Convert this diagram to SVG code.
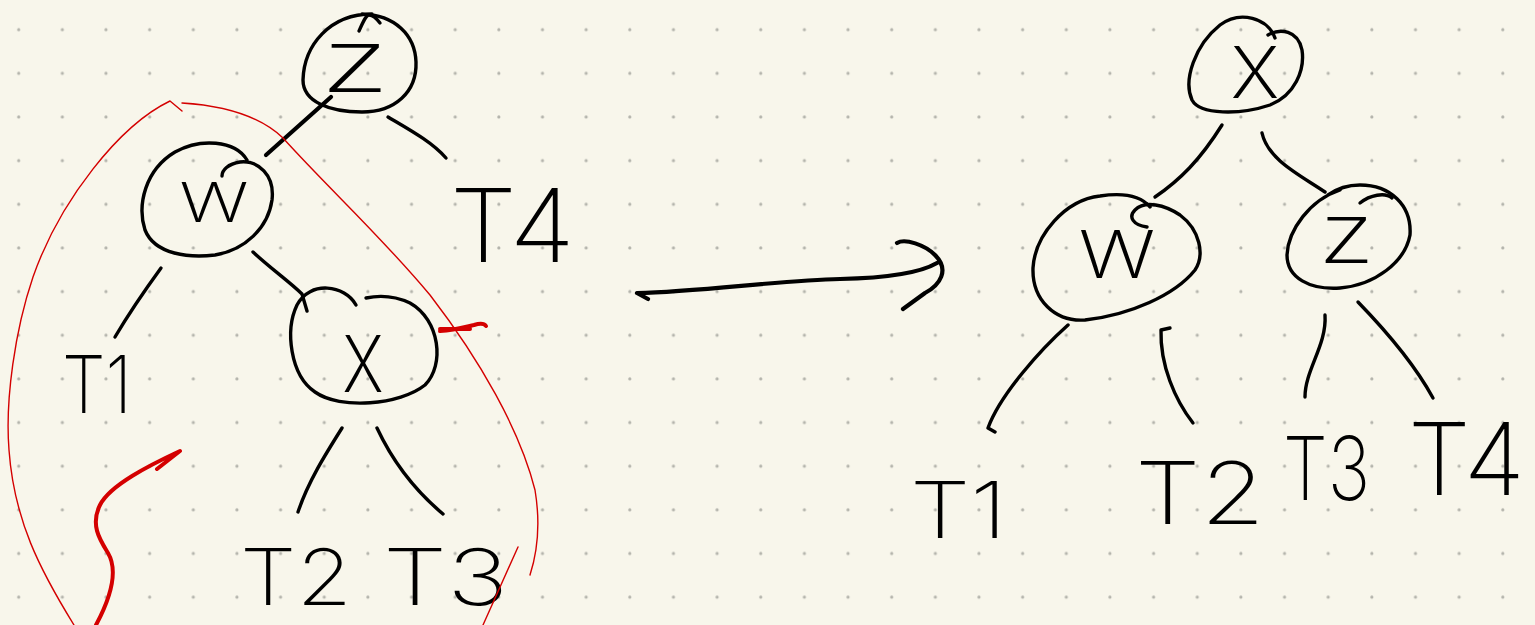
<svg xmlns="http://www.w3.org/2000/svg" width="1535" height="625" viewBox="0 0 1535 625">
<defs>
<pattern id="dots" x="0" y="0" width="43.65" height="43.65" patternUnits="userSpaceOnUse">
<circle cx="18.7" cy="29.7" r="1.6" fill="#b4b4ac"/>
</pattern>
<style>
.ink{fill:none;stroke:#000;stroke-width:3.4;stroke-linecap:round;stroke-linejoin:round}
.thick{stroke-width:4.2}
.red{fill:none;stroke:#d40000;stroke-linecap:round;stroke-linejoin:round}
.thin{stroke-width:1.4}
.bold{stroke-width:4}
.lbl{font-family:Inter,"Liberation Sans",sans-serif;font-weight:200;fill:#000}
</style>
</defs>
<rect width="1535" height="625" fill="#f8f6eb"/>
<rect width="1535" height="625" fill="url(#dots)"/>

<g id="connectors">
<path class="ink thick" d="M331 97 L266 155"/>
<path class="ink" d="M388 117 C410 130 432 142 446 158"/>
<path class="ink" d="M161 268 C145 290 128 315 115 337"/>
<path class="ink" d="M253 252 C270 268 290 282 302 294 L307 311"/>
<path class="ink" d="M342 428 C325 455 308 482 298 512"/>
<path class="ink" d="M377 428 C392 460 412 488 443 514"/>
<path class="ink" d="M1222 125 C1200 160 1180 180 1155 197"/>
<path class="ink" d="M1262 133 C1268 160 1300 175 1325 192"/>
<path class="ink" d="M1068 325 C1040 350 1000 395 988 428 L995 432"/>
<path class="ink" d="M1170 328 L1161 330 C1160 365 1175 400 1193 423"/>
<path class="ink" d="M1325 315 C1327 345 1305 370 1305 397"/>
<path class="ink" d="M1358 302 C1390 335 1415 365 1433 398"/>
<path class="ink thick" d="M648 299 L637 293 C700 292 780 280 840 279 C885 278 920 273 937 263"/>
<path class="ink thick" d="M897 243 C905 238 925 245 935 255 C950 270 940 285 925 293 L903 309"/>
</g>

<g id="node-z-left">
<path class="ink" d="M359 31 C363 22 366 15 369 15 C373 15 377 19 380 23"/>
<path class="ink" d="M372 14 C330 14 304 45 303 80 C303 102 330 112 362 112 C395 112 417 92 416 62 C415 35 395 15 362 14"/>
<text class="lbl" x="320" y="92" font-size="88" textLength="70" lengthAdjust="spacingAndGlyphs">z</text>
</g>

<g id="node-w-left">
<path class="ink" d="M247 160 C235 140 200 138 175 152 C145 170 137 205 145 230 C155 255 190 258 215 255 C245 250 268 228 272 200 C275 175 258 160 240 162 C228 164 222 170 222 176"/>
<text class="lbl" x="178" y="222" font-size="73" textLength="72" lengthAdjust="spacingAndGlyphs">w</text>
</g>

<g id="node-x-left">
<path class="ink" d="M356 305 C345 285 310 280 297 305 C285 330 290 375 315 392 C340 410 400 405 425 385 C445 365 440 320 410 303 C395 296 380 295 366 298"/>
<text class="lbl" x="342" y="392" font-size="105" textLength="42" lengthAdjust="spacingAndGlyphs">x</text>
</g>

<g id="leaf-t1-left"><text class="lbl" x="62" y="413" font-size="80" textLength="70" lengthAdjust="spacingAndGlyphs">T1</text></g>
<g id="leaf-t4-left"><text class="lbl" x="450" y="262" font-size="102" textLength="125" lengthAdjust="spacingAndGlyphs">T4</text></g>
<g id="leaf-t2-left"><text class="lbl" x="240" y="605" font-size="78" textLength="112" lengthAdjust="spacingAndGlyphs">T2</text></g>
<g id="leaf-t3-left"><text class="lbl" x="383" y="605" font-size="78" textLength="125" lengthAdjust="spacingAndGlyphs">T3</text></g>

<g id="node-x-right">
<path class="ink" d="M1275 38 C1268 18 1240 10 1220 25 C1195 45 1183 80 1192 100 C1200 115 1240 115 1270 105 C1295 95 1305 70 1302 50 C1298 30 1280 28 1268 35"/>
<text class="lbl" x="1230" y="98" font-size="96" textLength="50" lengthAdjust="spacingAndGlyphs">x</text>
</g>

<g id="node-w-right">
<path class="ink" d="M1150 207 C1140 195 1120 193 1100 196 C1065 200 1035 235 1033 268 C1032 300 1055 322 1085 320 C1130 315 1175 295 1195 270 C1205 255 1200 230 1180 215 C1165 205 1145 200 1135 210 C1128 217 1133 225 1147 227"/>
<text class="lbl" x="1077" y="278" font-size="88" textLength="80" lengthAdjust="spacingAndGlyphs">w</text>
</g>

<g id="node-z-right">
<path class="ink" d="M1340 190 C1310 200 1288 230 1287 255 C1287 278 1310 290 1340 288 C1375 285 1405 262 1410 235 C1412 205 1390 185 1360 185 C1345 185 1335 190 1328 195"/>
<path class="ink" d="M1360 203 C1370 195 1385 192 1392 198"/>
<text class="lbl" x="1318" y="263" font-size="84" textLength="57" lengthAdjust="spacingAndGlyphs">z</text>
</g>

<g id="leaf-t1-right"><text class="lbl" x="910" y="538" font-size="78" textLength="97" lengthAdjust="spacingAndGlyphs">T1</text></g>
<g id="leaf-t2-right"><text class="lbl" x="1135" y="524" font-size="86" textLength="130" lengthAdjust="spacingAndGlyphs">T2</text></g>
<g id="leaf-t3-right"><text class="lbl" x="1283" y="500" font-size="88" textLength="87" lengthAdjust="spacingAndGlyphs">T3</text></g>
<g id="leaf-t4-right"><text class="lbl" x="1408" y="495" font-size="100" textLength="117" lengthAdjust="spacingAndGlyphs">T4</text></g>

<g id="annotations">
<path class="red thin" d="M74 625 C40 570 14 520 9 450 C5 400 15 330 33 277 C60 200 120 125 170 101 L182 111"/>
<path class="red thin" d="M182 103 C230 106 262 118 283 138 C330 190 380 235 430 295 C480 360 520 430 535 490 C540 520 538 550 530 575"/>
<path class="red thin" d="M518 547 L483 625"/>
<path class="red bold" d="M157 469 L180 451 C150 465 110 485 100 505 C90 525 100 540 108 553 C118 570 112 595 96 625"/>
<path class="red bold" d="M440 331 C455 330 465 327 474 325 C480 323 484 323 486 326 M440 329 L470 329"/>
</g>
</svg>
